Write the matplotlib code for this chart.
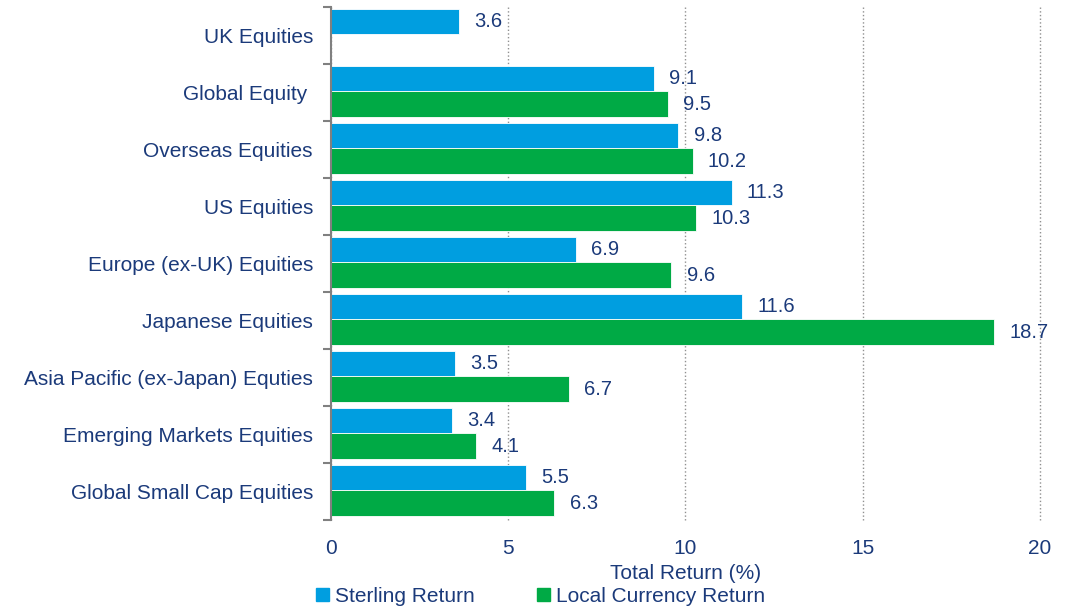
import matplotlib.pyplot as plt
import numpy as np
from matplotlib.patches import Patch

plt.rcParams['font.family'] = ['Liberation Sans', 'DejaVu Sans']

# data
categories = ['UK Equities', 'Global Equity ', 'Overseas Equities', 'US Equities',
              'Europe (ex-UK) Equities', 'Japanese Equities',
              'Asia Pacific (ex-Japan) Equties', 'Emerging Markets Equities',
              'Global Small Cap Equities']
sterling = [3.6, 9.1, 9.8, 11.3, 6.9, 11.6, 3.5, 3.4, 5.5]
local = [np.nan, 9.5, 10.2, 10.3, 9.6, 18.7, 6.7, 4.1, 6.3]

blue = '#009ee0'
green = '#00aa45'
txt = '#1b3a7a'
fs = 15

fig = plt.figure(figsize=(10.66, 6.09), dpi=100)
ax = fig.add_axes([0.3105, 0.1461, 0.6651, 0.8424])

y = np.arange(len(categories))
h = 0.45
b1 = ax.barh(y - h / 2 - 0.02, sterling, height=h, color=blue, edgecolor='white', linewidth=0.6)
loc_vals = [0 if np.isnan(v) else v for v in local]
b2 = ax.barh(y + h / 2 - 0.02, loc_vals, height=h, color=green, edgecolor='white', linewidth=0.6)

for bar, v in zip(b1, sterling):
    ax.annotate(f'{v:.1f}', (bar.get_width(), bar.get_y() + bar.get_height() / 2),
                xytext=(11, 0), textcoords='offset points', va='center', ha='left',
                fontsize=14.5, color=txt)
for bar, v in zip(b2, local):
    if np.isnan(v):
        continue
    ax.annotate(f'{v:.1f}', (bar.get_width(), bar.get_y() + bar.get_height() / 2),
                xytext=(11, 0), textcoords='offset points', va='center', ha='left',
                fontsize=14.5, color=txt)

ax.set_ylim(len(categories) - 0.5, -0.5)
ax.set_xlim(0, 20)
ax.set_yticks(y)
ax.set_yticklabels(categories, fontsize=fs, color=txt)
ax.set_yticks(np.arange(len(categories) + 1) - 0.5, minor=True)
ax.tick_params(axis='y', which='major', length=0, pad=13)
ax.tick_params(axis='y', which='minor', length=6, width=1.5, color='#808080', direction='out')

ax.set_xticks([0, 5, 10, 15, 20])
ax.tick_params(axis='x', length=0, pad=14, labelsize=fs, labelcolor=txt)
ax.set_xlabel('Total Return (%)', fontsize=fs, color=txt, labelpad=4)
ax.grid(axis='x', linestyle=':', color='#909090', linewidth=1)
for gl in ax.get_xgridlines():
    gl.set_clip_on(False)
ax.set_axisbelow(True)

for s in ['top', 'right', 'bottom']:
    ax.spines[s].set_visible(False)
ax.spines['left'].set_color('#808080')
ax.spines['left'].set_linewidth(1.5)

handles = [Patch(color=blue, label='Sterling Return'),
           Patch(color=green, label='Local Currency Return')]
fig.legend(handles=handles, loc='center', bbox_to_anchor=(0.507, 0.021), ncol=2,
           frameon=False, fontsize=fs, handlelength=0.6, handleheight=0.6,
           handletextpad=0.3, columnspacing=3.0, labelcolor=txt,
           borderpad=0, borderaxespad=0)

fig.savefig('out.png', dpi=100)
